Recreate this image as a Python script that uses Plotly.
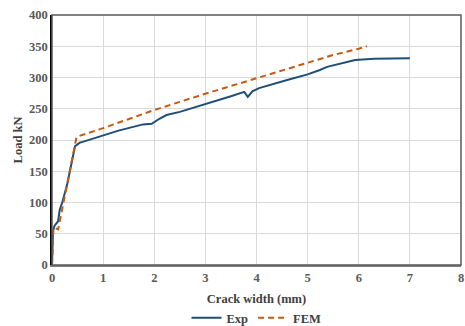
import plotly.graph_objects as go

exp_x = [0, 0.02, 0.05, 0.12, 0.15, 0.2, 0.3, 0.45, 0.5, 0.55, 0.6, 0.8, 1.0, 1.3, 1.78, 1.95, 2.1, 2.24, 2.5, 2.96, 3.5, 3.76, 3.83, 3.92, 4.05, 4.6, 5.0, 5.24, 5.38, 5.93, 6.3, 7.0]
exp_y = [0, 55, 63, 70, 88, 100, 130, 190, 193, 196, 197, 202, 207, 215, 225, 226, 234, 240, 245, 256, 270, 277, 269, 278, 283, 296, 305, 312, 317, 328, 330, 331]

fem_x = [0, 0.03, 0.12, 0.48, 1.0, 2.0, 3.0, 4.0, 5.0, 5.5, 6.0, 6.16]
fem_y = [0, 60, 57, 205, 219, 248, 274, 299, 324, 336, 346, 350]

x_ticks = [0, 1, 2, 3, 4, 5, 6, 7, 8]
y_ticks = [0, 50, 100, 150, 200, 250, 300, 350, 400]

font_fam = "Liberation Serif"
fs = 12.5

fig = go.Figure()
fig.add_trace(go.Scatter(x=exp_x, y=exp_y, mode="lines", name="Exp",
                         line=dict(color="#1F4E79", width=2)))
fig.add_trace(go.Scatter(x=fem_x, y=fem_y, mode="lines", name="FEM",
                         line=dict(color="#C55A11", width=2, dash="6px,4px")))

fig.update_layout(
    width=465, height=326,
    margin=dict(l=52, r=4, t=15, b=61, autoexpand=False),
    paper_bgcolor="white", plot_bgcolor="white",
    font=dict(family=font_fam, size=fs, color="#404040"),
    showlegend=True,
    legend=dict(orientation="h", x=0.5, xanchor="center", y=-0.212, yanchor="middle",
                font=dict(family=font_fam, size=fs, color="#404040", weight="bold"),
                tracegroupgap=0),
    xaxis=dict(range=[0, 8], tickvals=x_ticks, showgrid=True, gridcolor="#D9D9D9",
               gridwidth=1, zeroline=False, showline=True, linecolor="#808080", linewidth=2,
               tickfont=dict(family=font_fam, size=fs, color="#595959", weight="bold"),
               title=dict(text="<b>Crack width (mm)</b>", font=dict(family=font_fam, size=fs, color="#404040"), standoff=10),
               ticks="", fixedrange=True, automargin=False),
    yaxis=dict(range=[0, 400], tickvals=y_ticks, showgrid=True, gridcolor="#D9D9D9",
               gridwidth=1, zeroline=False, showline=True, linecolor="#000000", linewidth=1.5,
               tickfont=dict(family=font_fam, size=fs, color="#595959", weight="bold"),
               title=dict(text="<b>Load kN</b>", font=dict(family=font_fam, size=fs, color="#404040"), standoff=4),
               ticks="", fixedrange=True, automargin=False),
    shapes=[dict(type="rect", xref="paper", yref="paper", x0=0, x1=1, y0=0, y1=1,
                 line=dict(color="#595959", width=1.5), layer="above")],
)

fig.write_html("out.html")
